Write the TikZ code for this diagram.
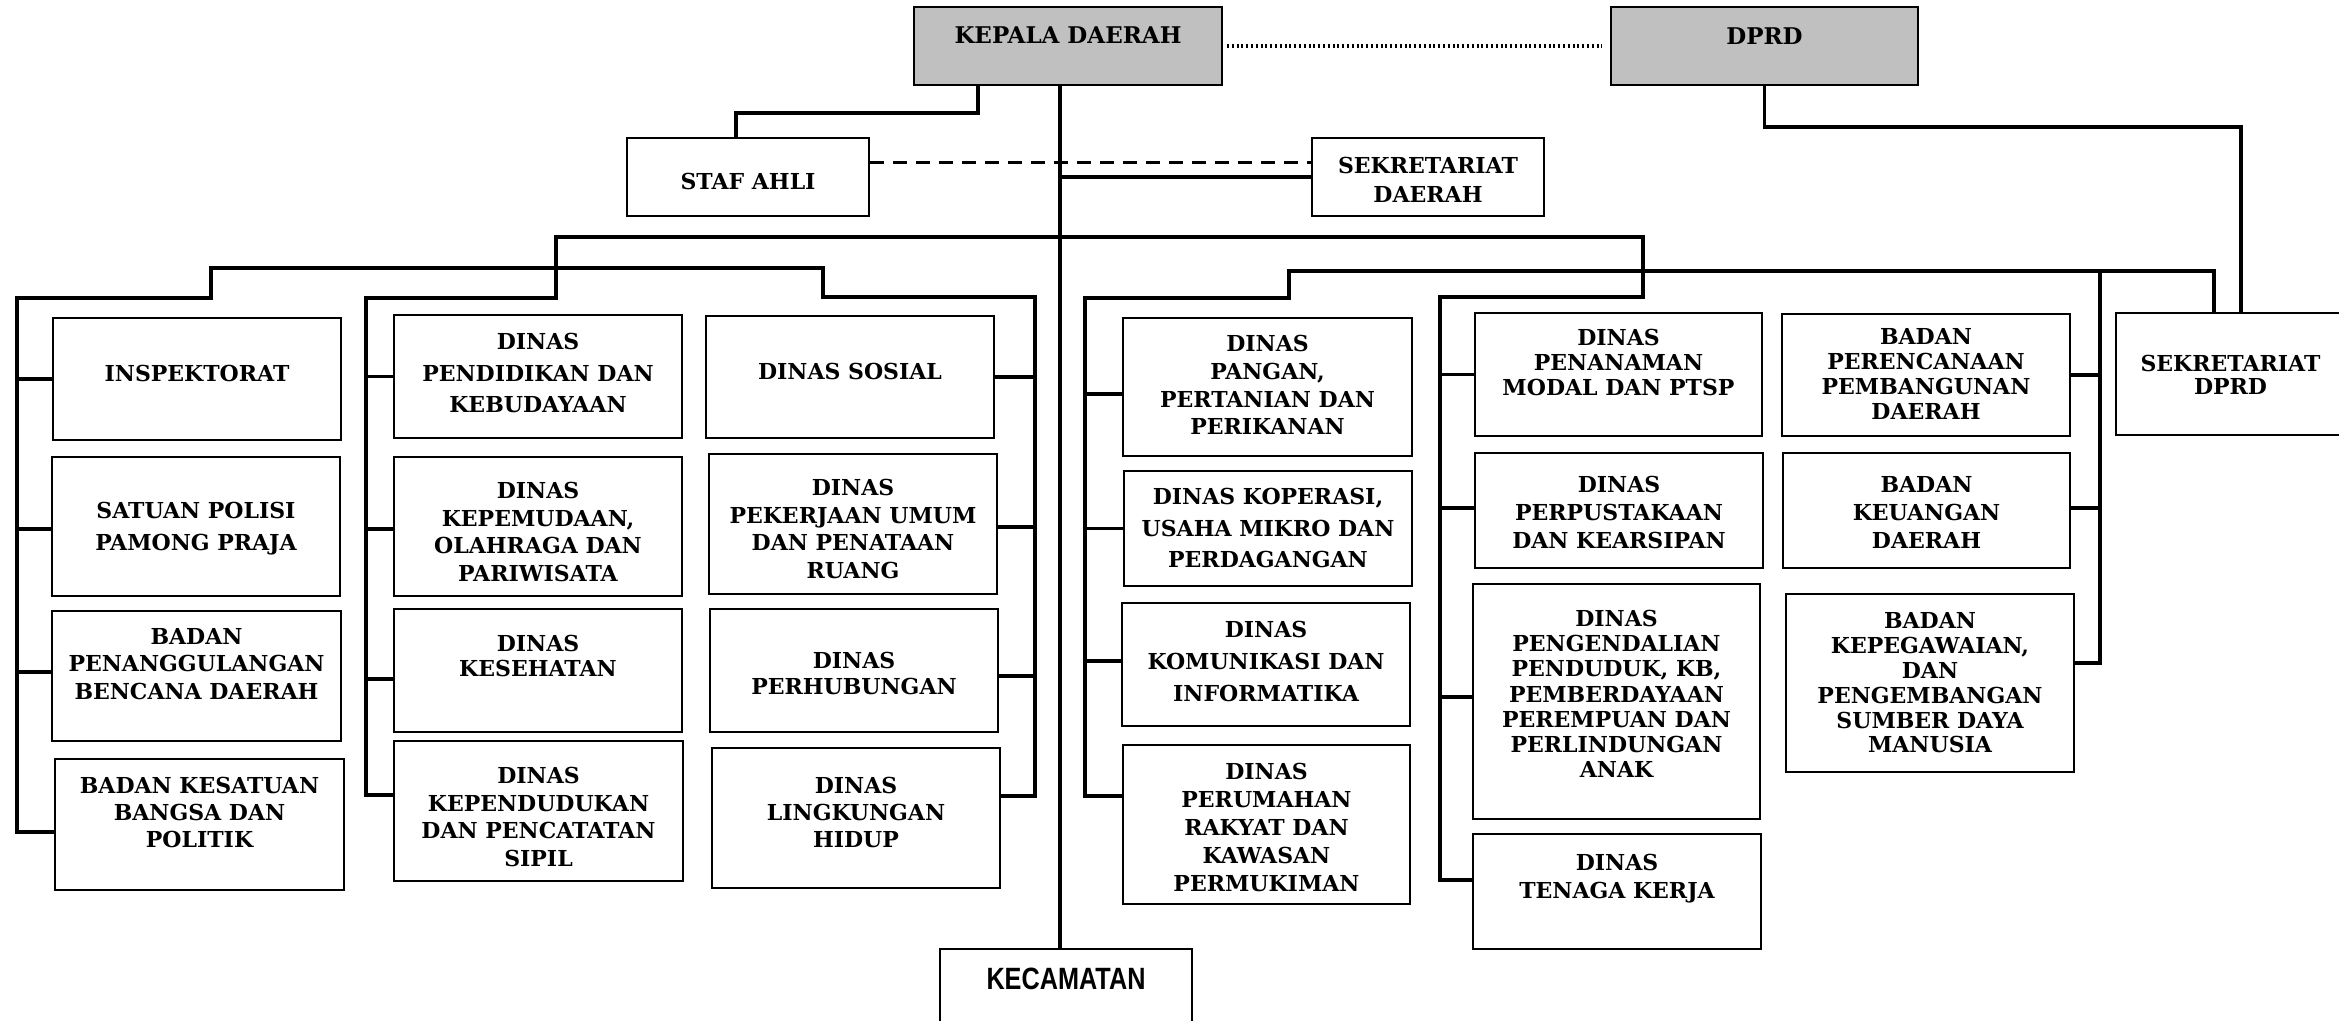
\documentclass[tikz,border=0pt]{standalone}
\usepackage{fontspec}
\setmainfont{DejaVu Serif}
\newfontfamily\kecfont[FakeStretch=0.82]{Liberation Sans}
\definecolor{boxgray}{RGB}{192,192,192}
\tikzset{
  orgbox/.style={draw=black, line width=0.9pt, inner sep=0pt, fill=white},
  graybox/.style={orgbox, fill=boxgray},
  orgtxt/.style={inner sep=0pt, align=center},
  conn/.style={line width=1.6pt, line cap=rect},
  dotconn/.style={line width=2pt, dash pattern=on 1pt off 1.4pt},
  dashconn/.style={line width=1.5pt, dash pattern=on 7pt off 4.5pt},
}
% name, x1, y1, x2, y2, text y, baselineskip(pt), text
\newcommand\orgb[8]{%
  \pgfmathsetmacro\obw{(#4-#2)*0.5}%
  \pgfmathsetmacro\obh{(#5-#3)*0.5}%
  \node[orgbox, minimum width=\obw pt, minimum height=\obh pt] (#1) at ({(#2+#4)/2},{(#3+#5)/2}) {};
  \node[orgtxt, font=\bfseries\fontsize{11}{#7}\selectfont] (#1-t) at ({(#2+#4)/2},#6) {#8};
}
\newcommand\stubL[3]{\draw[conn] ([yshift=#3pt]#2.west -| #1) -- ([yshift=#3pt]#2.west);}
\newcommand\stubR[3]{\draw[conn] ([yshift=#3pt]#2.east -| #1) -- ([yshift=#3pt]#2.east);}
\begin{document}
\begin{tikzpicture}[x=0.5pt, y=-0.5pt]
\useasboundingbox (0,0) rectangle (2339,1021);
\clip (0,0) rectangle (2339,1021);
\fill[white] (0,0) rectangle (2339,1021);

% named coordinates for spines and bus corners
\coordinate (mv) at (1060,0);
\coordinate (ka) at (978,113);
\coordinate (kb) at (736,113);
\coordinate (bL) at (556,237);
\coordinate (bR) at (1643,237);
\coordinate (b2L) at (211,268);
\coordinate (b2R) at (823,268);
\coordinate (sp1) at (17,298);
\coordinate (sp2) at (366,298);
\coordinate (sp3) at (1035,297);
\coordinate (r2L) at (1289,271);
\coordinate (r2R) at (2214,271);
\coordinate (sp4) at (1085,298);
\coordinate (sp5) at (1440,297);
\coordinate (sp6) at (2100,271);
\coordinate (dp) at (2241,127);

% top boxes
\node[graybox, minimum width=154pt, minimum height=39pt] (kd) at (1068,46) {};
\node[orgtxt, font=\bfseries\fontsize{11.5}{14}\selectfont] (kd-t) at (1068,35) {KEPALA DAERAH};
\node[graybox, minimum width=153.5pt, minimum height=39pt] (dprd) at (1764.5,46) {};
\node[orgtxt, font=\bfseries\fontsize{11.5}{14}\selectfont] (dprd-t) at (1764.5,36) {DPRD};

\orgb{staf}{627}{138}{869}{216}{181}{14}{STAF AHLI}
\orgb{sekda}{1312}{138}{1544}{216}{180}{14.5}{SEKRETARIAT\\DAERAH}

% column 1
\orgb{insp}{53}{318}{341}{440}{373}{14}{INSPEKTORAT}
\orgb{satpol}{52}{457}{340}{596}{529}{16}{SATUAN POLISI\\PAMONG PRAJA}
\orgb{bpbd}{52}{611}{341}{741}{664}{13.75}{BADAN\\PENANGGULANGAN\\BENCANA DAERAH}
\orgb{kesbang}{55}{759}{344}{890}{812}{13.5}{BADAN KESATUAN\\BANGSA DAN\\POLITIK}
% column 2
\orgb{pend}{394}{315}{682}{438}{373}{15.75}{DINAS\\PENDIDIKAN DAN\\KEBUDAYAAN}
\orgb{pemuda}{394}{457}{682}{596}{532}{13.85}{DINAS\\KEPEMUDAAN,\\OLAHRAGA DAN\\PARIWISATA}
\orgb{kes}{394}{609}{682}{732}{656}{12.5}{DINAS\\KESEHATAN}
\orgb{dukcapil}{394}{741}{683}{881}{817}{13.85}{DINAS\\KEPENDUDUKAN\\DAN PENCATATAN\\SIPIL}
% column 3
\orgb{sos}{706}{316}{994}{438}{371}{14}{DINAS SOSIAL}
\orgb{pu}{709}{454}{997}{594}{529}{13.85}{DINAS\\PEKERJAAN UMUM\\DAN PENATAAN\\RUANG}
\orgb{hub}{710}{609}{998}{732}{673}{13}{DINAS\\PERHUBUNGAN}
\orgb{lh}{712}{748}{1000}{888}{812}{13.5}{DINAS\\LINGKUNGAN\\HIDUP}
% column 4
\orgb{pangan}{1123}{318}{1412}{456}{385}{13.85}{DINAS\\PANGAN,\\PERTANIAN DAN\\PERIKANAN}
\orgb{kop}{1124}{471}{1412}{586}{528}{15.75}{DINAS KOPERASI,\\USAHA MIKRO DAN\\PERDAGANGAN}
\orgb{kominfo}{1122}{603}{1410}{726}{661}{16}{DINAS\\KOMUNIKASI DAN\\INFORMATIKA}
\orgb{perkim}{1123}{745}{1410}{904}{827}{14}{DINAS\\PERUMAHAN\\RAKYAT DAN\\KAWASAN\\PERMUKIMAN}
% column 5
\orgb{pmptsp}{1475}{313}{1762}{436}{362}{12.5}{DINAS\\PENANAMAN\\MODAL DAN PTSP}
\orgb{pustaka}{1475}{453}{1763}{568}{512}{14}{DINAS\\PERPUSTAKAAN\\DAN KEARSIPAN}
\orgb{p3a}{1473}{584}{1760}{819}{694}{12.6}{DINAS\\PENGENDALIAN\\PENDUDUK, KB,\\PEMBERDAYAAN\\PEREMPUAN DAN\\PERLINDUNGAN\\ANAK}
\orgb{naker}{1473}{834}{1761}{949}{879}{14}{DINAS\\TENAGA KERJA}
% column 6
\orgb{bappeda}{1782}{314}{2070}{436}{374}{12.5}{BADAN\\PERENCANAAN\\PEMBANGUNAN\\DAERAH}
\orgb{bkd}{1783}{453}{2070}{568}{512}{14}{BADAN\\KEUANGAN\\DAERAH}
\orgb{bkpsdm}{1786}{594}{2074}{772}{683}{12.4}{BADAN\\KEPEGAWAIAN,\\DAN\\PENGEMBANGAN\\SUMBER DAYA\\MANUSIA}
\orgb{setwan}{2116}{313}{2345}{435}{375}{11.5}{SEKRETARIAT\\DPRD}

% kecamatan
\node[orgbox, minimum width=126pt, minimum height=55pt] (kec) at (1066,1004) {};
\node[orgtxt, font=\kecfont\bfseries\fontsize{15.4}{18}\selectfont] (kec-t) at (1066,979) {KECAMATAN};

% top relations
\draw[dotconn, shorten <=2pt, shorten >=4pt] (kd.east) -- (dprd.west);
\draw[conn] (kd.south -| ka) -- (ka) -- (kb) -- (kb |- staf.north);
\draw[dashconn] ([yshift=7pt]staf.east) -- ([yshift=7pt]sekda.west);
\draw[conn] (kd.south -| mv) -- (kec.north -| mv);
\draw[conn] (mv |- sekda.west) -- (sekda.west);

% buses
\draw[conn] (bL) -- (bR);
\draw[conn] (bL) -- (bL |- sp2) -- (sp2);
\draw[conn] (b2L) -- (b2R);
\draw[conn] (b2L) -- (b2L |- sp1) -- (sp1);
\draw[conn] (b2R) -- (b2R |- sp3) -- (sp3);
\draw[conn] (bR) -- (bR |- sp5) -- (sp5);
\draw[conn] (r2L) -- (r2R);
\draw[conn] (r2L) -- (r2L |- sp4) -- (sp4);
\draw[conn] (r2R) -- (r2R |- setwan.north);
\draw[conn] (dprd.south) |- (dp) -- (dp |- setwan.north);

% spines
\draw[conn] (sp1) -- ([yshift=-3.75pt]kesbang.west -| sp1);
\draw[conn] (sp2) -- ([yshift=8pt]dukcapil.west -| sp2);
\draw[conn] (sp3) -- ([yshift=11pt]lh.east -| sp3);
\draw[conn] (sp4) -- ([yshift=14.25pt]perkim.west -| sp4);
\draw[conn] (sp5) -- ([yshift=5.75pt]naker.west -| sp5);
\draw[conn] (sp6) -- ([yshift=10pt]bkpsdm.east -| sp6);

% stubs
\stubL{sp1}{insp}{0}
\stubL{sp1}{satpol}{-1.25}
\stubL{sp1}{bpbd}{2}
\stubL{sp1}{kesbang}{-3.75}
\stubL{sp2}{pend}{0}
\stubL{sp2}{pemuda}{-1.25}
\stubL{sp2}{kes}{-4.25}
\stubL{sp2}{dukcapil}{8}
\stubR{sp3}{sos}{0}
\stubR{sp3}{pu}{-1.5}
\stubR{sp3}{hub}{-2.75}
\stubR{sp3}{lh}{11}
\stubL{sp4}{pangan}{-3.5}
\stubL{sp4}{kop}{0}
\stubL{sp4}{kominfo}{1.75}
\stubL{sp4}{perkim}{14.25}
\stubL{sp5}{pmptsp}{0}
\stubL{sp5}{pustaka}{1.25}
\stubL{sp5}{p3a}{2.25}
\stubL{sp5}{naker}{5.75}
\stubR{sp6}{bappeda}{0}
\stubR{sp6}{bkd}{1.25}
\stubR{sp6}{bkpsdm}{10}
\end{tikzpicture}
\end{document}
